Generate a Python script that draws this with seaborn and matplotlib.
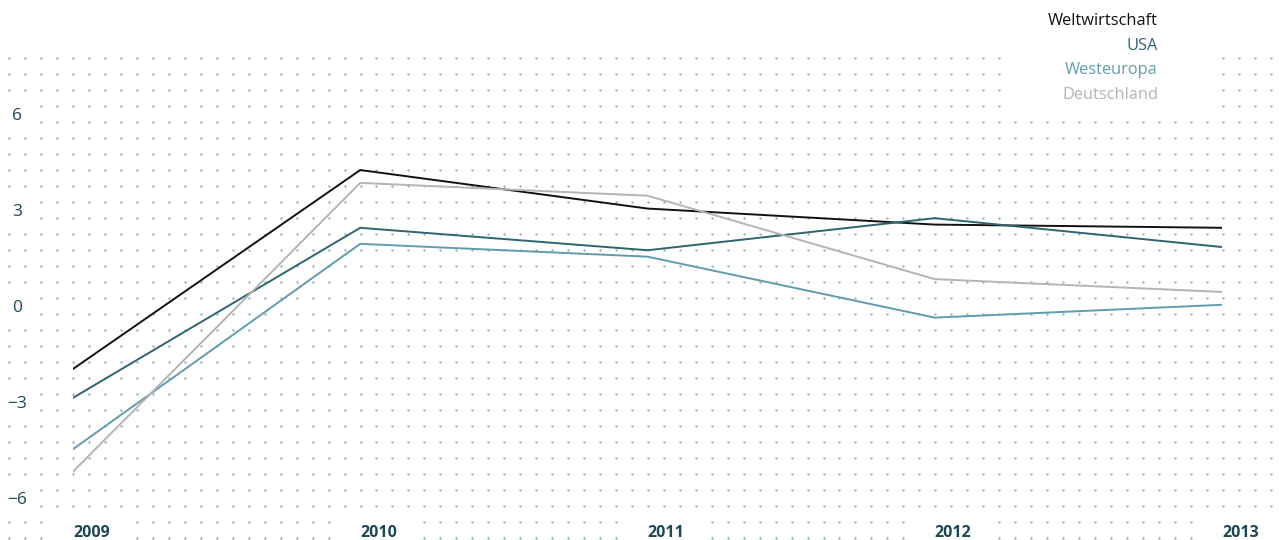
import numpy as np
import pandas as pd
import matplotlib.pyplot as plt
import seaborn as sns

jahre = [2009, 2010, 2011, 2012, 2013]
regionen = ["Weltwirtschaft", "USA", "Westeuropa", "Deutschland"]
weltwirtschaft = [-1.9, 4.3, 3.1, 2.6, 2.5]
usa = [-2.8, 2.5, 1.8, 2.8, 1.9]
westeuropa = [-4.4, 2.0, 1.6, -0.3, 0.1]
deutschland = [-5.1, 3.9, 3.5, 0.9, 0.5]
y_ticks = [-6, -3, 0, 3, 6]

farben = ["#111111", "#2f6472", "#5f9dae", "#b4b4b4"]
tick_farbe = "#1b4857"
punkt_farbe = "#7fadbf"

df = pd.DataFrame({
    "Jahr": jahre * 4,
    "Region": [r for r in regionen for _ in jahre],
    "Wert": weltwirtschaft + usa + westeuropa + deutschland,
})

sns.set_style("white")
plt.rcParams["font.family"] = ["Open Sans", "DejaVu Sans"]

W, H = 1279, 540
fig = plt.figure(figsize=(W / 100, H / 100), dpi=100)

# pixel layout (top-origin)
x_links, x_rechts = 73, 1222
y_oben, y_unten = 115.5, 500.5

def px_x(jahr):
    return x_links + (jahr - jahre[0]) / (jahre[-1] - jahre[0]) * (x_rechts - x_links)

def px_y(wert):
    return y_oben + (y_ticks[-1] - wert) / (y_ticks[-1] - y_ticks[0]) * (y_unten - y_oben)

# background dot grid
bg = fig.add_axes([0, 0, 1, 1], zorder=0)
bg.set_xlim(0, W)
bg.set_ylim(H, 0)
bg.axis("off")
gx, gy = np.meshgrid(np.arange(9.3, W, 15.965), np.arange(57.7, H, 16.0))
gx, gy = gx.ravel(), gy.ravel()
frei = np.ones_like(gx, dtype=bool)
frei &= ~((gx > 1008) & (gx < 1215) & (gy < 112))
for t in y_ticks:
    frei &= ~((gx < 36) & (np.abs(gy - px_y(t)) < 14))
for j in jahre:
    frei &= ~((gx > px_x(j) - 24) & (gx < px_x(j) + 56) & (gy > 512))
bg.scatter(gx[frei], gy[frei], s=2.6, color=punkt_farbe, marker="o", linewidths=0)

# main axes
ax = fig.add_axes([x_links / W, 1 - y_unten / H, (x_rechts - x_links) / W,
                   (y_unten - y_oben) / H], zorder=1)
ax.patch.set_alpha(0)
sns.lineplot(data=df, x="Jahr", y="Wert", hue="Region", hue_order=regionen,
             palette=farben, linewidth=1.4, legend=False, ax=ax)
ax.set_xlim(jahre[0], jahre[-1])
ax.set_ylim(y_ticks[0], y_ticks[-1])
ax.axis("off")

for t in y_ticks:
    label = str(t).replace("-", "\u2212")
    fig.text(17 / W, 1 - px_y(t) / H, label, ha="center", va="center",
             fontsize=12.5, color=tick_farbe)

for j in jahre:
    fig.text(px_x(j) / W, 1 - 533 / H, str(j), ha="left", va="center",
             fontsize=11.5, fontweight="bold", color=tick_farbe)

for i, (name, farbe) in enumerate(zip(regionen, farben)):
    fig.text(1158 / W, 1 - (21 + 24.7 * i) / H, name, ha="right", va="center",
             fontsize=11.8, color=farbe)

fig.savefig("out.png", dpi=100)
